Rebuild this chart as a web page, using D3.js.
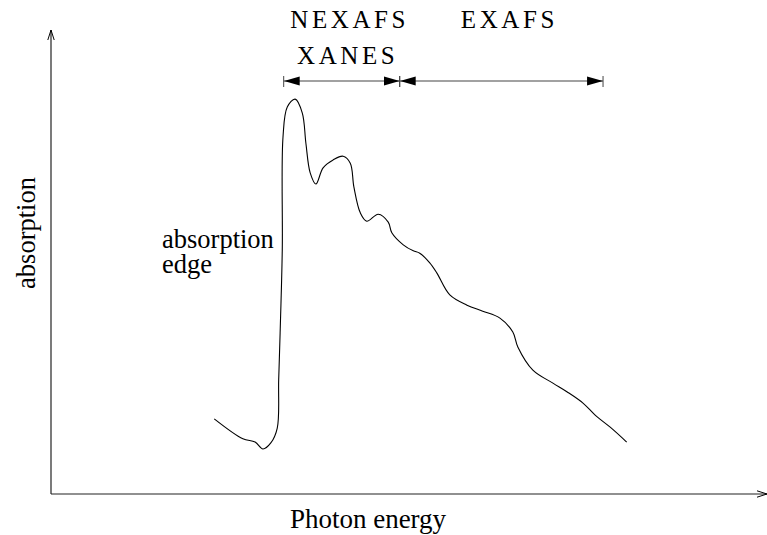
<!DOCTYPE html>
<html>
<head>
<meta charset="utf-8">
<script src="https://cdn.jsdelivr.net/npm/d3@7"></script>
</head>
<body style="margin:0">
<script>
// Photon energy (arbitrary units, 0-100) and absorption (arbitrary units, 0-100)
const energy = [22.8, 26.8, 28.5, 29.6, 30.7, 31.6, 31.8, 32.0, 32.3, 32.4, 33.0, 34.1, 35.1, 35.6, 36.2, 37.0, 38.0, 39.4, 40.8, 41.8, 42.3, 43.2, 44.1, 45.7, 47.1, 47.6, 49.2, 50.6, 51.5, 52.9, 53.9, 55.7, 58.1, 60.3, 62.7, 64.5, 65.2, 67.3, 70.1, 72.1, 74.3, 76.0, 78.1, 80.4];
const absorption = [16.2, 11.9, 11.2, 9.7, 11.0, 14.2, 24.6, 34.7, 52.6, 76.9, 83.4, 85.1, 82.1, 75.6, 69.2, 66.8, 70.3, 72.0, 72.8, 71.3, 66.2, 60.6, 58.8, 60.3, 58.6, 56.3, 53.7, 52.4, 51.9, 49.8, 47.6, 42.9, 40.7, 39.4, 37.9, 34.9, 31.7, 26.7, 23.9, 22.0, 19.6, 17.0, 14.4, 11.2];

// Regions marked above the spectrum (energy range)
const regionNames = [["NEXAFS", "XANES"], ["EXAFS"]];
const regionStart = [32.5, 48.7];
const regionEnd = [48.7, 77.1];

const edgeLabel = ["absorption", "edge"];
const xLabel = "Photon energy";
const yLabel = "absorption";

const FONT = "'Liberation Serif'";

const W = 767, H = 535;
const svg = d3.select("body").append("svg").attr("width", W).attr("height", H);

const x = d3.scaleLinear().domain([0, 100]).range([51, 767]);
const y = d3.scaleLinear().domain([0, 100]).range([494, 30]);

const defs = svg.append("defs");
defs.append("marker").attr("id", "fill-arrow")
  .attr("viewBox", "0 0 16 10").attr("refX", 16).attr("refY", 5)
  .attr("markerWidth", 16).attr("markerHeight", 10).attr("markerUnits", "userSpaceOnUse")
  .attr("orient", "auto-start-reverse")
  .append("path").attr("d", "M0,0.5 L16,5 L0,9.5 Z").attr("fill", "#000");
defs.append("marker").attr("id", "open-arrow")
  .attr("viewBox", "0 0 10 8").attr("refX", 10).attr("refY", 4)
  .attr("markerWidth", 10).attr("markerHeight", 8).attr("markerUnits", "userSpaceOnUse")
  .attr("orient", "auto")
  .append("path").attr("d", "M0,0.8 L10,4 L0,7.2").attr("fill", "none").attr("stroke", "#000").attr("stroke-width", 1);

// Axes (no ticks) with open arrowheads
const ax = svg.append("g").attr("stroke", "#222").attr("stroke-width", 1.2).attr("fill", "none");
ax.append("line").attr("x1", x(0)).attr("y1", y(0)).attr("x2", x(0)).attr("y2", y(100))
  .attr("marker-end", "url(#open-arrow)");
ax.append("line").attr("x1", x(0)).attr("y1", y(0)).attr("x2", x(100)).attr("y2", y(0))
  .attr("marker-end", "url(#open-arrow)");

// Spectrum
const pts = energy.map((e, i) => [e, absorption[i]]);
const line = d3.line().x(d => x(d[0])).y(d => y(d[1])).curve(d3.curveCatmullRom.alpha(0.5));
svg.append("path").attr("d", line(pts)).attr("fill", "none").attr("stroke", "#000").attr("stroke-width", 1.1);

// Region arrows
const arrowY = 81;
const rg = svg.append("g");
regionStart.forEach((s, i) => {
  const e = regionEnd[i];
  rg.append("line").attr("x1", x(s)).attr("x2", x(e)).attr("y1", arrowY).attr("y2", arrowY)
    .attr("stroke", "#444").attr("stroke-width", 1.2)
    .attr("marker-start", "url(#fill-arrow)").attr("marker-end", "url(#fill-arrow)");
  [s, e].forEach(v => rg.append("line").attr("x1", x(v)).attr("x2", x(v))
    .attr("y1", arrowY - 5).attr("y2", arrowY + 6).attr("stroke", "#444").attr("stroke-width", 1));
  regionNames[i].forEach((nm, j) => {
    rg.append("text").attr("x", (x(s) + x(e)) / 2 + 8 + (i === 0 && j === 1 ? -2 : 0)).attr("y", 28 + j * 36)
      .attr("text-anchor", "middle").attr("font-size", 25)
      .style("font-family", FONT).style("letter-spacing", "3.6px")
      .text(nm);
  });
});

// Edge annotation (one text block, two lines)
const edgeText = svg.append("text").attr("font-size", 26.5).style("font-family", FONT);
edgeLabel.forEach((t, j) => {
  edgeText.append("tspan").attr("x", 162).attr("y", 248 + j * 25).text(t);
});

// Axis labels
svg.append("text").attr("x", 368).attr("y", 528).attr("text-anchor", "middle").attr("font-size", 27)
  .style("font-family", FONT).text(xLabel);
svg.append("text").attr("transform", "translate(35,233) rotate(-90)").attr("text-anchor", "middle")
  .attr("font-size", 26.5).style("font-family", FONT).text(yLabel);
</script>
</body>
</html>
